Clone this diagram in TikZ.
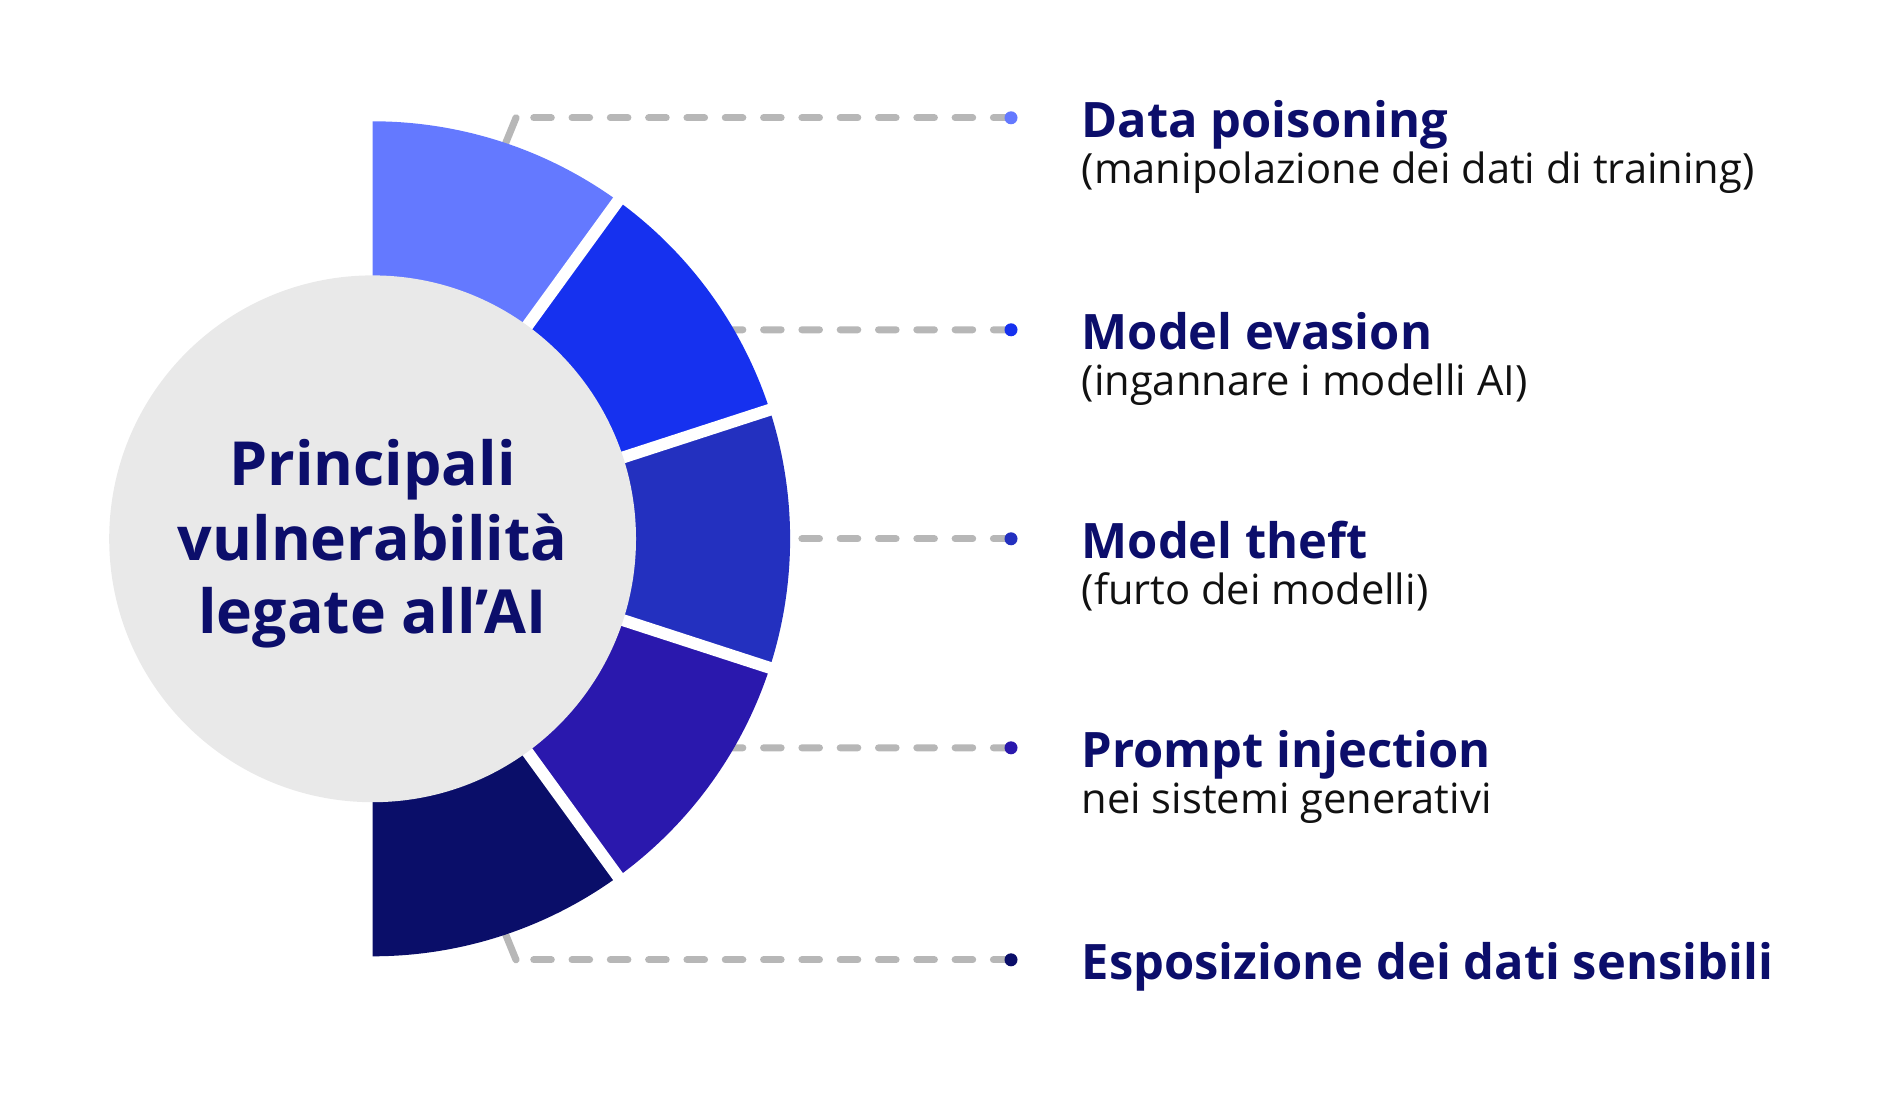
\documentclass[tikz,border=0pt]{standalone}
\usepackage{fontspec}
\setmainfont{Open Sans}
\usetikzlibrary{positioning,calc}
\definecolor{seg-one}{HTML}{6479FF}
\definecolor{seg-two}{HTML}{1631EF}
\definecolor{seg-three}{HTML}{2330BF}
\definecolor{seg-four}{HTML}{2A18AD}
\definecolor{seg-five}{HTML}{0A0E69}
\definecolor{hub-gray}{HTML}{E9E9E9}
\definecolor{title-navy}{HTML}{0C0E6B}
\definecolor{dash-gray}{HTML}{B7B7B7}
\definecolor{sub-black}{HTML}{111111}
\begin{document}
\begin{tikzpicture}[
    every node/.style={inner sep=0pt},
    gapline/.style={white, line width=3.4pt},
    leader/.style={dash-gray, line width=2pt, line cap=round,
      dash pattern=on 5pt off 5.9pt},
    stub/.style={dash-gray, line width=2pt, line cap=round},
    enddot/.style={circle, minimum size=1.3mm},
    title/.style={anchor=base west, text=title-navy,
      font=\fontsize{13.9}{17}\selectfont\bfseries},
    subtitle/.style={anchor=base west, text=sub-black,
      font=\fontsize{11.85}{14}\selectfont},
    hubtext/.style={anchor=base, text=title-navy,
      font=\fontsize{17.3}{21}\selectfont\bfseries}]
  \useasboundingbox (0,0) rectangle (19.03,11.05);
  \coordinate (C) at (3.726,5.662);

  % leader ends and corners
  \coordinate (e1) at (10.11,9.872);
  \coordinate (e2) at (10.11,7.752);
  \coordinate (e3) at (10.11,5.662);
  \coordinate (e4) at (10.11,3.572);
  \coordinate (e5) at (10.11,1.452);
  \coordinate (k1) at (5.16,9.872);
  \coordinate (k2) at ($(C)+(36:3.556)$);
  \coordinate (k3) at ($(C)+(0:3.4)$);
  \coordinate (k4) at ($(C)+(-36:3.556)$);
  \coordinate (k5) at (5.16,1.452);

  % leaders, behind the ring
  \draw[stub] ($(C)+(72:3.6)$) -- (k1);
  \draw[stub] ($(C)+(-72:3.6)$) -- (k5);
  \foreach \i in {1,...,5}
    \draw[leader] (e\i) -- (k\i);

  % ring segments
  \foreach \a/\col in {90/seg-one, 54/seg-two, 18/seg-three, -18/seg-four, -54/seg-five}
    \fill[\col] ($(C)+(\a:2.4)$) arc[start angle=\a, end angle=\a-36, radius=2.4]
      -- ($(C)+(\a-36:4.175)$) arc[start angle=\a-36, end angle=\a, radius=4.175] -- cycle;
  \foreach \a in {54,18,-18,-54}
    \draw[gapline] (C) -- ($(C)+(\a:4.4)$);

  % dots
  \node[enddot, fill=seg-one]   (d1) at (e1) {};
  \node[enddot, fill=seg-two]   (d2) at (e2) {};
  \node[enddot, fill=seg-three] (d3) at (e3) {};
  \node[enddot, fill=seg-four]  (d4) at (e4) {};
  \node[enddot, fill=seg-five]  (d5) at (e5) {};

  % hub
  \node[circle, fill=hub-gray, minimum size=5.268cm] (hub) at (C) {};
  \node[hubtext] (h1) at ([yshift=5.34mm]C) {Principali};
  \node[hubtext] (h2) at ([yshift=-2.19mm]C) {vulnerabilità};
  \node[hubtext] (h3) at ([yshift=-9.47mm]C) {legate all’AI};

  % labels
  \node[title] (t1) at ([xshift=7mm, yshift=-1.95mm]d1.center) {Data poisoning};
  \node[subtitle] (s1) at ([yshift=-4.6mm]t1.base west) {(manipolazione dei dati di training)};
  \node[title] (t2) at ([xshift=7mm, yshift=-1.95mm]d2.center) {Model evasion};
  \node[subtitle] (s2) at ([yshift=-4.6mm]t2.base west) {(ingannare i modelli AI)};
  \node[title] (t3) at ([xshift=7mm, yshift=-1.95mm]d3.center) {Model theft};
  \node[subtitle] (s3) at ([yshift=-4.6mm]t3.base west) {(furto dei modelli)};
  \node[title] (t4) at ([xshift=7mm, yshift=-1.95mm]d4.center) {Prompt injection};
  \node[subtitle] (s4) at ([yshift=-4.6mm]t4.base west) {nei sistemi generativi};
  \node[title] (t5) at ([xshift=7mm, yshift=-1.95mm]d5.center) {Esposizione dei dati sensibili};
\end{tikzpicture}
\end{document}
